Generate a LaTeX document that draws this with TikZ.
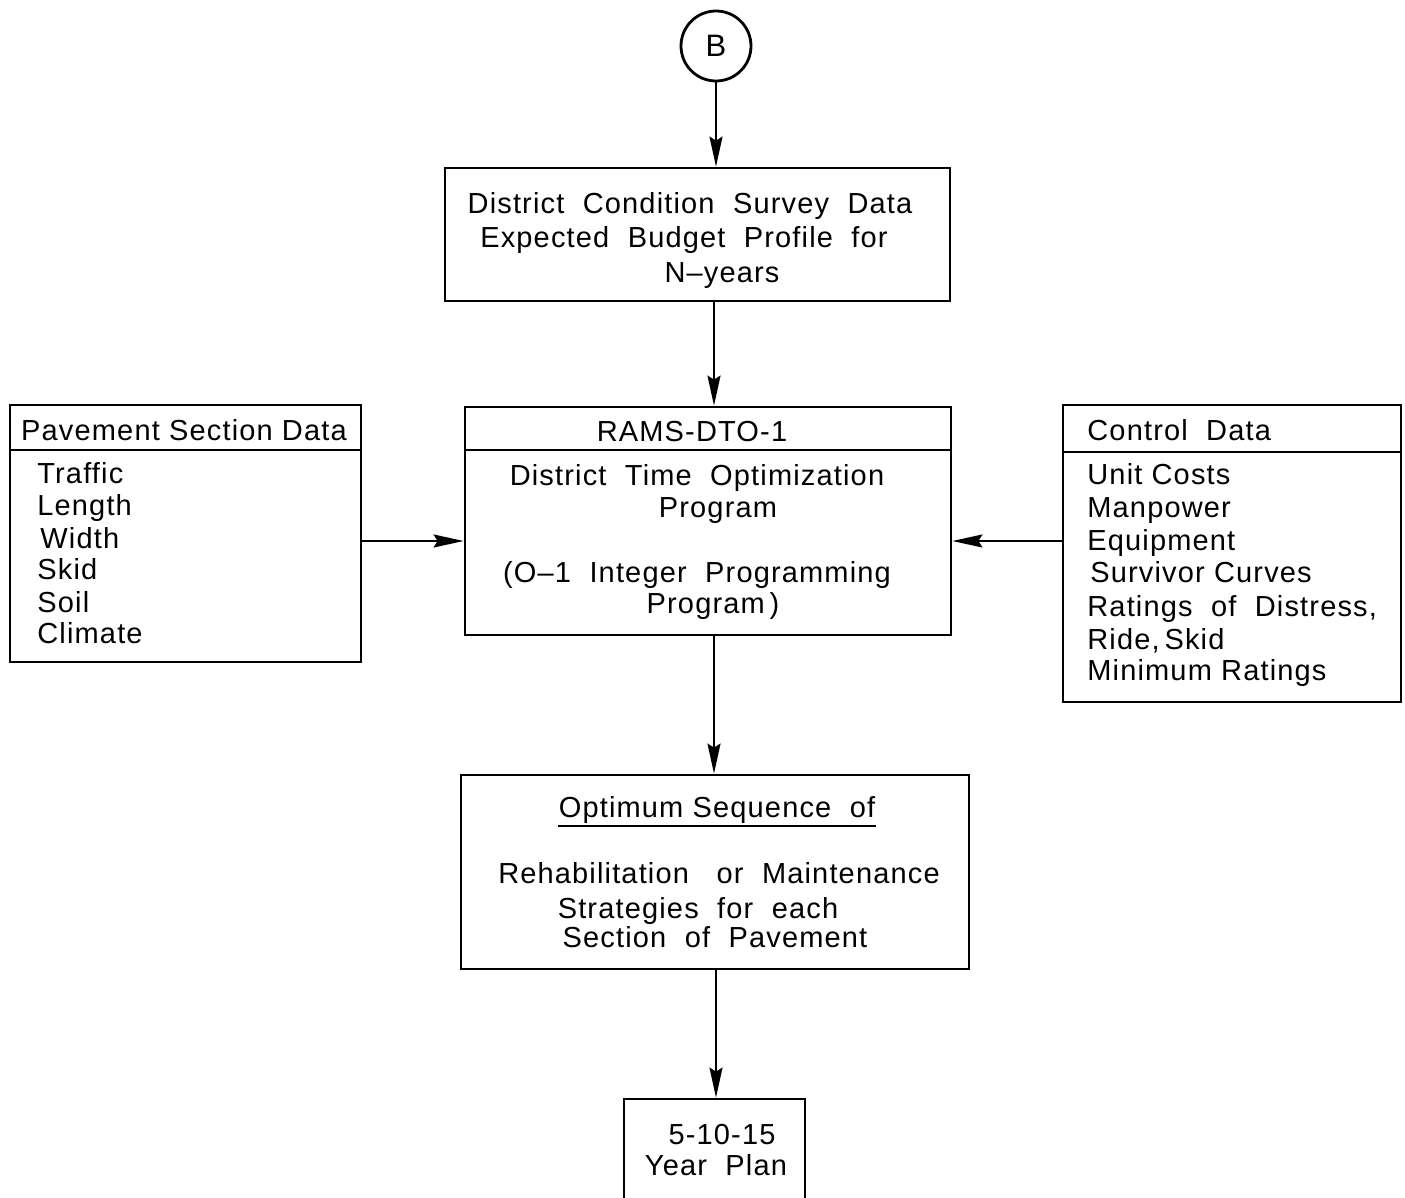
\documentclass[tikz,border=0pt]{standalone}
\usepackage{fontspec}
\setmainfont{Liberation Sans}[LetterSpace=4]
\usetikzlibrary{arrows.meta}
\begin{document}
\begin{tikzpicture}[x=0.5pt,y=-0.5pt,
  box/.style={draw,line width=1.4pt,rectangle,inner sep=0pt},
  txt/.style={inner sep=0pt,font=\fontsize{14.5}{17}\selectfont},
  arr/.style={line width=1pt,-{Stealth[length=15pt,width=6.5pt,inset=2pt]}},
  divider/.style={line width=1.4pt}]
\useasboundingbox (0,0) rectangle (1405,1198);
% start connector
\node[draw,circle,line width=1.4pt,minimum size=35pt,inner sep=0pt] (B) at (716,46) {};
\node[txt,font=\fontsize{15.5}{17}\selectfont] (Btxt) at (716,46) {B};
% box 1
\node[box,minimum width=252.5pt,minimum height=66.5pt] (box1) at (697.5,234.5) {};
\node[txt,anchor=base] (t1a) at (690,214) {District\ \ Condition\ \ Survey\ \ Data};
\node[txt,anchor=base] (t1b) at (684,248) {Expected\ \ Budget\ \ Profile\ \ for};
\node[txt,anchor=base] (t1c) at (722,283) {N--years};
% centre program box
\node[box,minimum width=243pt,minimum height=114pt] (prog) at (708,521) {};
\coordinate (dp) at (0,450);
\draw[divider] (prog.west |- dp) -- (prog.east |- dp);
\node[txt,anchor=base] (p0) at (692,442) {RAMS-DTO-1};
\node[txt,anchor=base] (p1) at (697,486) {District\ \ Time\ \ Optimization};
\node[txt,anchor=base] (p2) at (718,517) {Program};
\node[txt,anchor=base] (p3) at (697,582) {(O--1\ \ Integer\ \ Programming};
\node[txt,anchor=base] (p4) at (713,613) {Program\,)};
% left box
\node[box,minimum width=175.5pt,minimum height=128.5pt] (lbox) at (185.5,533.5) {};
\draw[divider] (lbox.west |- dp) -- (lbox.east |- dp);
\node[txt,anchor=base] (l0) at (184,441) {Pavement Section Data};
\node[txt,anchor=base west] (l1) at (37,484) {Traffic};
\node[txt,anchor=base west] (l2) at (37,516) {Length};
\node[txt,anchor=base west] (l3) at (40,549) {Width};
\node[txt,anchor=base west] (l4) at (37,580) {Skid};
\node[txt,anchor=base west] (l5) at (37,612) {Soil};
\node[txt,anchor=base west] (l6) at (37,644) {Climate};
% right box
\node[box,minimum width=169pt,minimum height=148.5pt] (rbox) at (1232,553.5) {};
\coordinate (dr) at (0,452);
\draw[divider] (rbox.west |- dr) -- (rbox.east |- dr);
\node[txt,anchor=base west] (r0) at (1087,441) {Control\ \ Data};
\node[txt,anchor=base west] (r1) at (1087,485) {Unit Costs};
\node[txt,anchor=base west] (r2) at (1087,518) {Manpower};
\node[txt,anchor=base west] (r3) at (1087,551) {Equipment};
\node[txt,anchor=base west] (r4) at (1090,582) {Survivor Curves};
\node[txt,anchor=base west] (r5) at (1087,617) {Ratings\ \ of\ \ Distress,};
\node[txt,anchor=base west] (r6) at (1087,649) {Ride,\,Skid};
\node[txt,anchor=base west] (r7) at (1087,681) {Minimum Ratings};
% optimum box
\node[box,minimum width=254pt,minimum height=97pt] (opt) at (715,872) {};
\node[txt,anchor=base] (o0) at (717,817) {Optimum Sequence\ \ of};
\draw[line width=0.9pt] (o0.south west |- 0,826) -- (o0.south east |- 0,826);
\node[txt,anchor=base] (o1) at (719,883) {Rehabilitation\ \ \ or\ \ Maintenance};
\node[txt,anchor=base] (o2) at (698,918) {Strategies\ \ for\ \ each};
\node[txt,anchor=base] (o3) at (715,947) {Section\ \ of\ \ Pavement};
% plan box
\node[box,minimum width=90.5pt,minimum height=58pt] (plan) at (714.5,1157) {};
\node[txt,anchor=base] (y1) at (722,1144) {5-10-15};
\node[txt,anchor=base] (y2) at (716,1175) {Year\ \ Plan};
% connectors
\draw[arr] (B.south) -- (B.south |- box1.north);
\draw[arr] ([xshift=8.25pt]box1.south) -- ([xshift=8.25pt]box1.south |- prog.north);
\draw[arr] ([yshift=-3.75pt]lbox.east) -- ([yshift=-3.75pt]lbox.east -| prog.west);
\draw[arr] ([yshift=6.25pt]rbox.west) -- ([yshift=6.25pt]rbox.west -| prog.east);
\draw[arr] ([xshift=3pt]prog.south) -- ([xshift=3pt]prog.south |- opt.north);
\draw[arr] ([xshift=0.5pt]opt.south) -- ([xshift=0.5pt]opt.south |- plan.north);
\end{tikzpicture}
\end{document}
